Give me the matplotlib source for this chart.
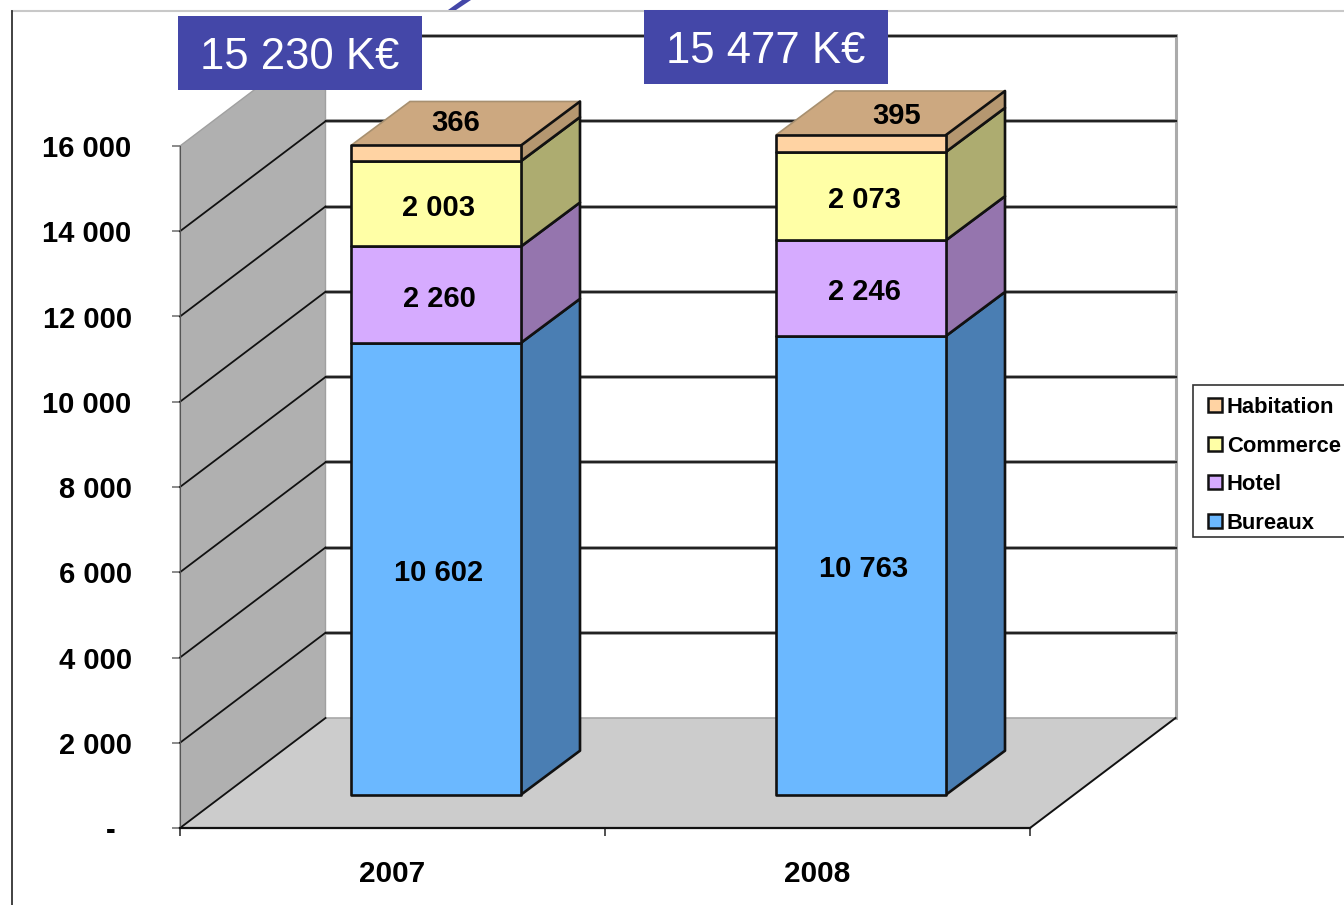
#!/usr/bin/env python3
"""Stacked 3D-look bar chart of rental income per asset type, 2007 and 2008."""

import matplotlib
matplotlib.use("Agg")
import matplotlib.pyplot as plt
from matplotlib.patches import Patch, Polygon, Rectangle
from matplotlib.transforms import Affine2D

YEARS = ["2007", "2008"]
SERIES = ["Bureaux", "Hotel", "Commerce", "Habitation"]
BUREAUX = [10602, 10763]
HOTEL = [2260, 2246]
COMMERCE = [2003, 2073]
HABITATION = [366, 395]
TOTAL_LABELS = ["15 230 K€", "15 477 K€"]
Y_TICKS = [0, 2000, 4000, 6000, 8000, 10000, 12000, 14000, 16000]

FRONT = ["#6BB8FF", "#D6ABFF", "#FFFFA6", "#FFD3A3"]
SIDE = ["#4A7EB3", "#9575AE", "#ADAC70", "#B59770"]
TOP = "#CCA880"
BOX_BLUE = "#4447A8"

W, H = 1344, 905
PX_PER_CAT = 425.0
PX_PER_UNIT = 0.042625
X0_PX, Y0_PX = 180, 828

# depth of the chart box and of the bars, in data units
BOX_DX, BOX_DY = 145.5 / PX_PER_CAT, 110 / PX_PER_UNIT
BAR_DX, BAR_DY = 59 / PX_PER_CAT, 44 / PX_PER_UNIT
BAR_LEFT, BAR_W = 171 / PX_PER_CAT, 170 / PX_PER_CAT
BAR_BASE = 33.3 / PX_PER_UNIT


def fmt(v):
    return f"{v:,}".replace(",", " ") if v else "-  "


def draw_box(ax, x, y0, y1, front, side, top=None):
    edge = dict(edgecolor="#111111", linewidth=1.9, joinstyle="round")
    if top:
        # far edges of the lid only get a soft rim, the near ones come from the faces below
        ax.add_patch(Polygon([(x, y1), (x + BAR_W, y1), (x + BAR_W + BAR_DX, y1 + BAR_DY),
                              (x + BAR_DX, y1 + BAR_DY)], facecolor=top, edgecolor="#A89070",
                             linewidth=1.2, zorder=3.9))
    ax.add_patch(Polygon([(x + BAR_W, y0), (x + BAR_W + BAR_DX, y0 + BAR_DY),
                          (x + BAR_W + BAR_DX, y1 + BAR_DY), (x + BAR_W, y1)],
                         facecolor=side, zorder=4, **edge))
    ax.add_patch(Rectangle((x, y0), BAR_W, y1 - y0, facecolor=front, zorder=4, **edge))


plt.rcParams["font.family"] = ["Liberation Sans", "DejaVu Sans"]

fig = plt.figure(figsize=(W / 100, H / 100), dpi=100)
ax = fig.add_axes([0, 0, 1, 1])
ax.set_xlim(-X0_PX / PX_PER_CAT, (W - X0_PX) / PX_PER_CAT)
ax.set_ylim((Y0_PX - H) / PX_PER_UNIT, Y0_PX / PX_PER_UNIT)
ax.patch.set_alpha(0)

# pixel transform for the things sitting outside the plot scales
px = Affine2D().scale(1, -1).translate(0, H)

# slide frame
ax.plot([12, W], [11, 11], color="#C8C8C8", lw=1.5, transform=px, clip_on=False, zorder=1)
ax.plot([12, 12], [11, H], color="#333333", lw=1.3, transform=px, clip_on=False, zorder=1)
ax.add_patch(Polygon([(448, 10), (456, 10), (471, 0), (462, 0)], facecolor=BOX_BLUE,
                     edgecolor="none", transform=px, zorder=1))

n = len(YEARS)
top_val = Y_TICKS[-1]

# floor and side wall
ax.add_patch(Polygon([(0, 0), (BOX_DX, BOX_DY), (n + BOX_DX, BOX_DY), (n, 0)],
                     facecolor="#CCCCCC", edgecolor="none", zorder=1))
ax.add_patch(Polygon([(0, 0), (BOX_DX, BOX_DY), (BOX_DX, top_val + BOX_DY), (0, top_val)],
                     facecolor="#B0B0B0", edgecolor="#A0A0A0", linewidth=1, zorder=1))
ax.plot([n + BOX_DX] * 2, [BOX_DY, top_val + BOX_DY], color="#ABABAB", lw=2.2, zorder=1.5)
ax.plot([BOX_DX, n + BOX_DX], [BOX_DY, BOX_DY], color="#A8A8A8", lw=1.2, zorder=1.5)

# gridlines, back wall then side wall
for v in Y_TICKS[1:]:
    ax.plot([BOX_DX, n + BOX_DX], [v + BOX_DY] * 2, color="#AAAAAA", lw=2.8, zorder=1.6)
    ax.plot([BOX_DX, n + BOX_DX], [v + BOX_DY] * 2, color="#222222", lw=1.6, zorder=1.7)
for v in Y_TICKS[:-1]:
    ax.plot([0, BOX_DX], [v, v + BOX_DY], color="#111111", lw=1.3, zorder=1.8)
ax.plot([n, n + BOX_DX], [0, BOX_DY], color="#111111", lw=1.4, zorder=1.8)

# bars and their labels
stack = [BUREAUX, HOTEL, COMMERCE, HABITATION]
top_shift = [20 / PX_PER_CAT, 36 / PX_PER_CAT]
top_lift = [0, -3 / PX_PER_UNIT]
label_drop = 4 / PX_PER_UNIT
for i in range(n):
    x = i + BAR_LEFT
    base = BAR_BASE
    for s, values in enumerate(stack):
        v = values[i]
        last = s == len(stack) - 1
        draw_box(ax, x, base, base + v, FRONT[s], SIDE[s], TOP if last else None)
        if last:
            ax.text(x + BAR_W / 2 + top_shift[i], base + v + BAR_DY / 2 + top_lift[i], fmt(v), ha="center",
                    va="center", fontsize=21, fontweight="bold", color="black", zorder=6)
        else:
            ax.text(x + BAR_W / 2 + 3 / PX_PER_CAT, base + v / 2 - label_drop, fmt(v), ha="center",
                    va="center", fontsize=21, fontweight="bold", color="black", zorder=6)
        base += v

# axes
for name in ("top", "right"):
    ax.spines[name].set_visible(False)
ax.spines["left"].set_position(("data", 0))
ax.spines["left"].set_bounds(0, top_val)
ax.spines["left"].set_color("#555555")
ax.spines["bottom"].set_position(("data", 0))
ax.spines["bottom"].set_bounds(0, n)
ax.spines["bottom"].set_color("#111111")
ax.spines["bottom"].set_linewidth(1.6)

ax.set_yticks(Y_TICKS)
ax.set_yticklabels([fmt(v) for v in Y_TICKS], fontsize=21, fontweight="bold")
ax.tick_params(axis="y", length=5.8, width=1.2, color="#777777", pad=29)
ax.set_xticks(range(n + 1))
ax.set_xticklabels([])
ax.tick_params(axis="x", length=5.8, width=1.2, color="#333333")
ax.set_xticks([i + 0.5 for i in range(n)], labels=YEARS, minor=True)
ax.tick_params(axis="x", which="minor", length=0, pad=22.7, labelsize=21.4)
for t in ax.get_xticklabels(minor=True):
    t.set_fontweight("bold")

# total boxes above the bars
ax.add_patch(Rectangle((178, 16), 244, 74, facecolor=BOX_BLUE, edgecolor="none", transform=px, zorder=7))
ax.add_patch(Rectangle((644, 10), 244, 74, facecolor=BOX_BLUE, edgecolor="none", transform=px, zorder=7))
ax.text(300, 57.5, TOTAL_LABELS[0], color="white", fontsize=31.4, ha="center", va="center", transform=px, zorder=8)
ax.text(765.5, 51.5, TOTAL_LABELS[1], color="white", fontsize=31.4, ha="center", va="center", transform=px, zorder=8)

# legend frame runs off the right edge
ax.add_patch(Rectangle((1193, 385), 160, 152, facecolor="white", edgecolor="#333333", linewidth=1.2,
                       transform=px, zorder=5, clip_on=True))
handles = [Patch(facecolor=FRONT[s], edgecolor="#111111", linewidth=1.8, label=SERIES[s])
           for s in reversed(range(len(SERIES)))]
leg = ax.legend(handles=handles, loc="upper left", bbox_to_anchor=(1208, 397), bbox_transform=px,
                frameon=False, borderpad=0, borderaxespad=0, handlelength=0.62,
                handleheight=0.62, handletextpad=0.24, labelspacing=0.8,
                prop={"weight": "bold", "size": 15.8})
leg.set_zorder(6)

fig.savefig("out.png", dpi=100)
